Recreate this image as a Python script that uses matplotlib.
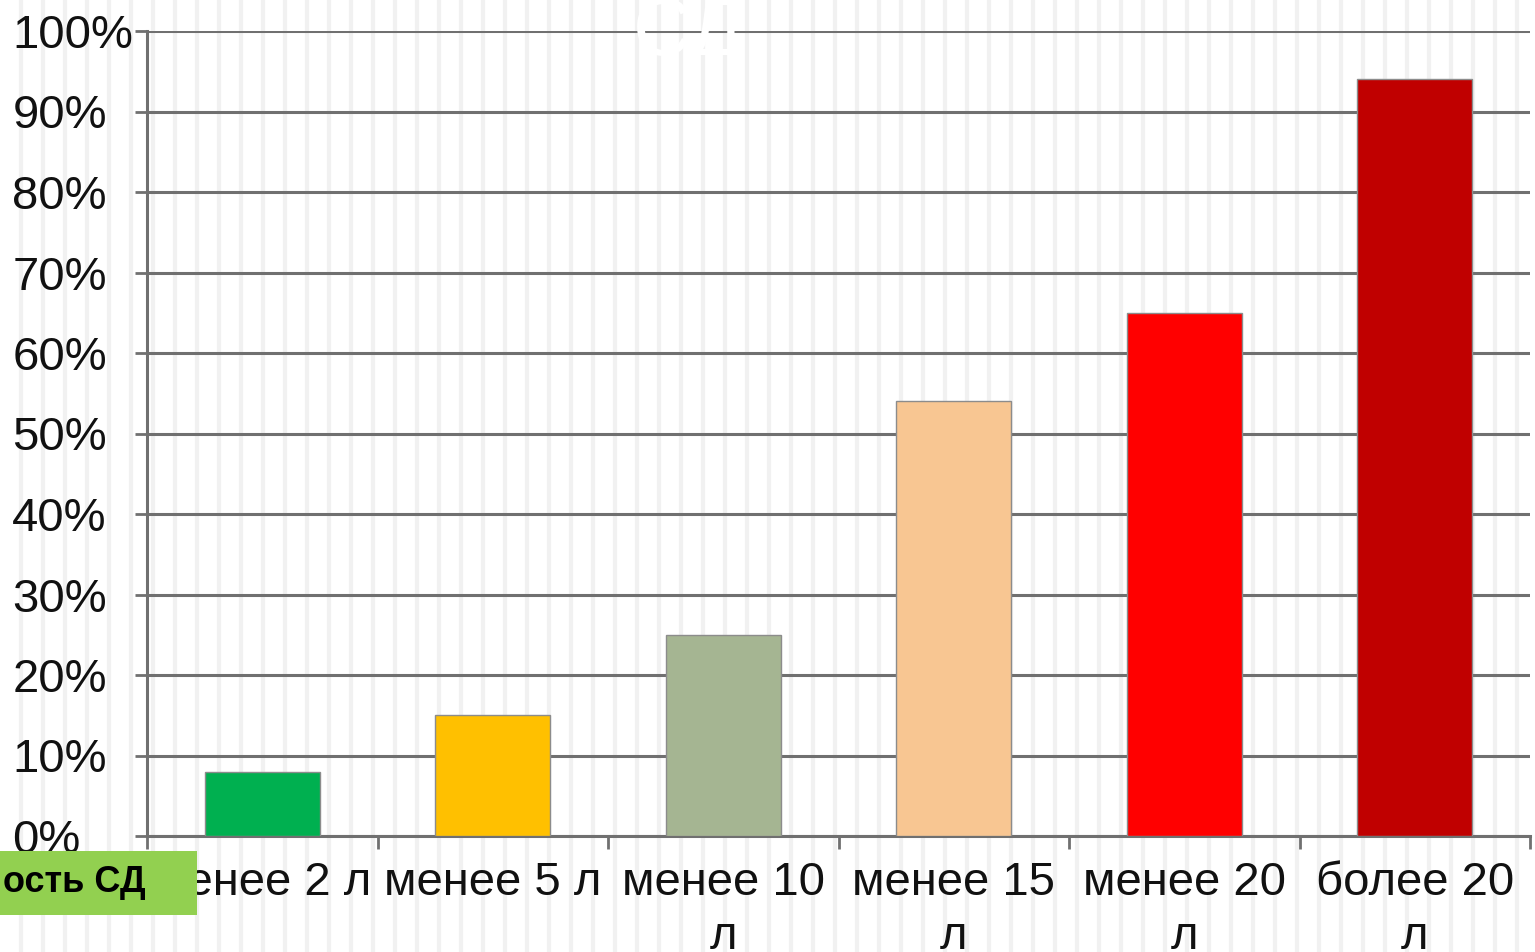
import numpy as np
import matplotlib.pyplot as plt
from matplotlib.patches import Rectangle

plt.rcParams['font.family'] = ['Liberation Sans', 'DejaVu Sans']

categories = ['менее 2 л', 'менее 5 л', 'менее 10\nл', 'менее 15\nл', 'менее 20\nл', 'более 20\nл']
values = [0.08, 0.15, 0.25, 0.54, 0.65, 0.94]
colors = ['#00B050', '#FFC000', '#A5B592', '#F8C692', '#FF0000', '#C00000']
yticks = np.arange(0, 1.01, 0.1)
ytick_labels = ['0%', '10%', '20%', '30%', '40%', '50%', '60%', '70%', '80%', '90%', '100%']

W, H = 1535, 952
fig = plt.figure(figsize=(W / 100, H / 100), dpi=100)
fig.patch.set_facecolor('white')

# striped background
bg = fig.add_axes([0, 0, 1, 1], zorder=-1)
bg.set_xlim(0, W)
bg.set_ylim(0, H)
bg.axis('off')
for x in np.arange(21, W, 22):
    bg.axvline(x, color='#f1f1f1', lw=3)

ax = fig.add_axes([147 / W, 1 - 836 / H, (1530 - 147) / W, (836 - 31) / H])
ax.set_facecolor('none')
x = np.arange(len(categories))
ax.bar(x, values, width=0.5, color=colors, edgecolor='#8c8c8c', linewidth=1, zorder=3)

ax.set_xlim(-0.5, len(categories) - 0.5)
ax.set_ylim(0, 1)
ax.set_yticks(yticks)
ax.set_yticklabels(ytick_labels, fontsize=34, ha='left', color='#111111')
ax.tick_params(axis='y', length=9, width=2, color='#707070', pad=88)
ax.grid(axis='y', color='#707070', lw=2.2)
ax.set_axisbelow(True)

ax.set_xticks(x)
ax.set_xticklabels(categories, fontsize=34, color='#111111', linespacing=1.3)
ax.tick_params(axis='x', which='major', length=0, pad=18)
ax.set_xticks(np.arange(-0.5, len(categories)), minor=True)
ax.tick_params(axis='x', which='minor', length=9, width=2, color='#707070')

for s in ['top', 'right']:
    ax.spines[s].set_visible(False)
for s in ['left', 'bottom']:
    ax.spines[s].set_color('#707070')
    ax.spines[s].set_linewidth(2.2)

# faint title
fig.text(688 / W, 1 - 34 / H, 'СД', color='white', fontsize=58, ha='center', va='center')

# green label box
fig.patches.append(Rectangle((0, 1 - 915 / H), 197 / W, 64 / H, transform=fig.transFigure,
                             facecolor='#92D050', edgecolor='none', zorder=5))
fig.text(3 / W, 1 - 883 / H, 'ость СД', fontsize=26, fontweight='bold', color='black',
         ha='left', va='center', zorder=6)

fig.savefig('out.png', dpi=100)
